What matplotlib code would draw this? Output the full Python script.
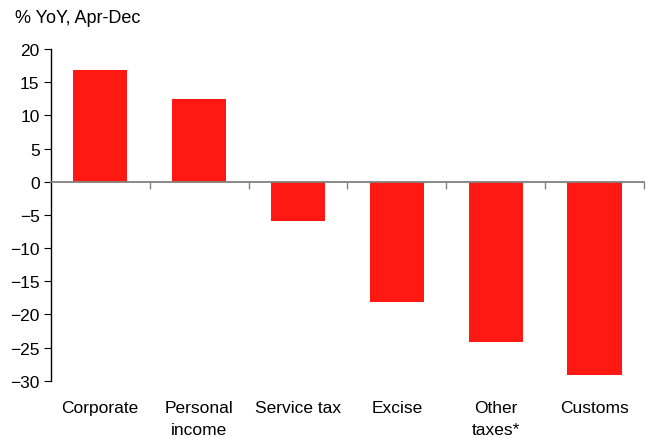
import matplotlib
matplotlib.use("Agg")
import matplotlib.pyplot as plt
import numpy as np

# Data
categories = ["Corporate", "Personal\nincome", "Service tax", "Excise", "Other\ntaxes*", "Customs"]
values = [16.9, 12.4, -5.9, -18.2, -24.2, -29.1]

plt.rcParams["font.family"] = ["Liberation Sans", "DejaVu Sans"]

fig = plt.figure(figsize=(6.5, 4.39), dpi=100)
ax = fig.add_axes([0.078, 0.1305, 0.913, 0.7555])

x = np.arange(len(categories))
ax.bar(x, values, width=0.55, color="#FF1912", zorder=2)

ax.set_xlim(-0.5, len(categories) - 0.5)
ax.set_ylim(-30, 20)
ax.set_yticks(np.arange(-30, 21, 5))
ax.tick_params(axis="y", labelsize=12.5, length=5, direction="out", colors="black", pad=3)

# category axis sits on zero line, ticks between categories
ax.spines["top"].set_visible(False)
ax.spines["right"].set_visible(False)
ax.spines["bottom"].set_position(("data", 0))
ax.spines["bottom"].set_color("#808080")
ax.spines["bottom"].set_linewidth(1.3)
ax.spines["bottom"].set_zorder(3)
ax.spines["left"].set_linewidth(1.0)
ax.set_xticks(np.arange(0.5, len(categories), 1.0))
ax.set_xticklabels([])
ax.tick_params(axis="x", length=5, color="#808080", width=1.0, direction="out")

for i, lab in enumerate(categories):
    ax.text(i, -32.9, lab, ha="center", va="top", fontsize=12.5, linespacing=1.6)

fig.text(0.023, 0.957, "% YoY, Apr-Dec", fontsize=13, ha="left", va="center")

fig.savefig("out.png", dpi=100)
